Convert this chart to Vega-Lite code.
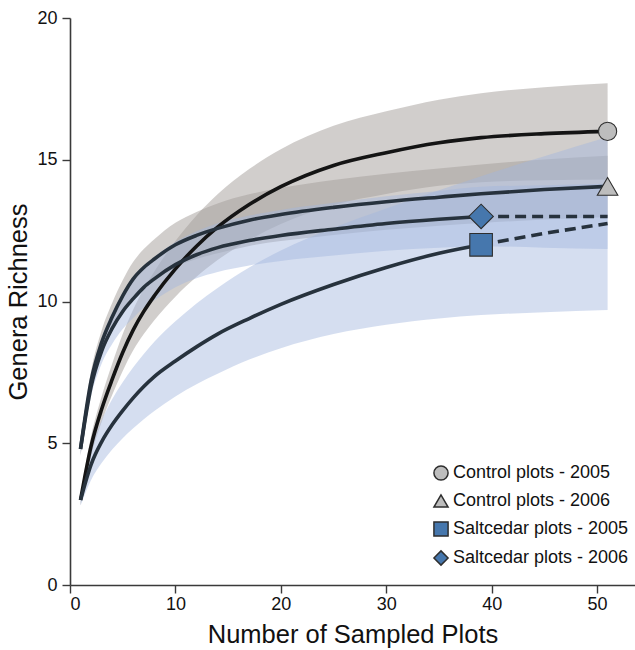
{
  "$schema": "https://vega.github.io/schema/vega-lite/v6.json",
  "width": 565,
  "height": 567,
  "autosize": {"type": "none"},
  "padding": {"left": 70, "top": 18, "right": 0, "bottom": 65},
  "background": "white",
  "config": {
    "view": {"stroke": null},
    "font": "Liberation Sans",
    "axis": {
      "grid": false,
      "domainColor": "#3a3a3a",
      "domainWidth": 1.6,
      "tickColor": "#3a3a3a",
      "tickWidth": 1.4,
      "tickSize": 8,
      "labelFontSize": 18,
      "labelColor": "#111111",
      "titleFontWeight": "normal",
      "titleColor": "#111111"
    },
    "legend": {
      "labelLimit": 300
    }
  },
  "datasets": {
    "bands": [
      {"series": "Control plots - 2005", "x": 1, "lo": 2.8, "hi": 3.2},
      {"series": "Control plots - 2005", "x": 2, "lo": 4.55, "hi": 5.25},
      {"series": "Control plots - 2005", "x": 3, "lo": 5.75, "hi": 6.65},
      {"series": "Control plots - 2005", "x": 4, "lo": 6.7, "hi": 7.8},
      {"series": "Control plots - 2005", "x": 5, "lo": 7.55, "hi": 8.85},
      {"series": "Control plots - 2005", "x": 6, "lo": 8.28, "hi": 9.72},
      {"series": "Control plots - 2005", "x": 7, "lo": 8.85, "hi": 10.45},
      {"series": "Control plots - 2005", "x": 8, "lo": 9.34, "hi": 11.06},
      {"series": "Control plots - 2005", "x": 10, "lo": 10.17, "hi": 12.13},
      {"series": "Control plots - 2005", "x": 12, "lo": 10.87, "hi": 13.03},
      {"series": "Control plots - 2005", "x": 14, "lo": 11.46, "hi": 13.78},
      {"series": "Control plots - 2005", "x": 17, "lo": 12.17, "hi": 14.67},
      {"series": "Control plots - 2005", "x": 20, "lo": 12.73, "hi": 15.37},
      {"series": "Control plots - 2005", "x": 25, "lo": 13.4, "hi": 16.2},
      {"series": "Control plots - 2005", "x": 30, "lo": 13.79, "hi": 16.71},
      {"series": "Control plots - 2005", "x": 35, "lo": 14.08, "hi": 17.12},
      {"series": "Control plots - 2005", "x": 39, "lo": 14.21, "hi": 17.35},
      {"series": "Control plots - 2005", "x": 45, "lo": 14.28, "hi": 17.56},
      {"series": "Control plots - 2005", "x": 51, "lo": 14.3, "hi": 17.7},
      {"series": "Control plots - 2006", "x": 1, "lo": 4.55, "hi": 5.05},
      {"series": "Control plots - 2006", "x": 2, "lo": 6.85, "hi": 7.55},
      {"series": "Control plots - 2006", "x": 3, "lo": 8.12, "hi": 8.98},
      {"series": "Control plots - 2006", "x": 4, "lo": 8.95, "hi": 9.95},
      {"series": "Control plots - 2006", "x": 5, "lo": 9.65, "hi": 10.75},
      {"series": "Control plots - 2006", "x": 6, "lo": 10.2, "hi": 11.4},
      {"series": "Control plots - 2006", "x": 7, "lo": 10.55, "hi": 11.85},
      {"series": "Control plots - 2006", "x": 8, "lo": 10.8, "hi": 12.2},
      {"series": "Control plots - 2006", "x": 10, "lo": 11.22, "hi": 12.78},
      {"series": "Control plots - 2006", "x": 12, "lo": 11.5, "hi": 13.16},
      {"series": "Control plots - 2006", "x": 14, "lo": 11.7, "hi": 13.46},
      {"series": "Control plots - 2006", "x": 17, "lo": 11.96, "hi": 13.78},
      {"series": "Control plots - 2006", "x": 20, "lo": 12.13, "hi": 14.01},
      {"series": "Control plots - 2006", "x": 25, "lo": 12.35, "hi": 14.29},
      {"series": "Control plots - 2006", "x": 30, "lo": 12.53, "hi": 14.51},
      {"series": "Control plots - 2006", "x": 35, "lo": 12.67, "hi": 14.69},
      {"series": "Control plots - 2006", "x": 39, "lo": 12.77, "hi": 14.83},
      {"series": "Control plots - 2006", "x": 45, "lo": 12.89, "hi": 15.01},
      {"series": "Control plots - 2006", "x": 51, "lo": 12.98, "hi": 15.14},
      {"series": "Saltcedar plots - 2005", "x": 1, "lo": 2.8, "hi": 3.2},
      {"series": "Saltcedar plots - 2005", "x": 2, "lo": 3.7, "hi": 4.8},
      {"series": "Saltcedar plots - 2005", "x": 3, "lo": 4.3, "hi": 5.8},
      {"series": "Saltcedar plots - 2005", "x": 4, "lo": 4.78, "hi": 6.55},
      {"series": "Saltcedar plots - 2005", "x": 5, "lo": 5.18, "hi": 7.15},
      {"series": "Saltcedar plots - 2005", "x": 6, "lo": 5.53, "hi": 7.68},
      {"series": "Saltcedar plots - 2005", "x": 7, "lo": 5.85, "hi": 8.15},
      {"series": "Saltcedar plots - 2005", "x": 8, "lo": 6.14, "hi": 8.58},
      {"series": "Saltcedar plots - 2005", "x": 10, "lo": 6.65, "hi": 9.3},
      {"series": "Saltcedar plots - 2005", "x": 12, "lo": 7.08, "hi": 9.93},
      {"series": "Saltcedar plots - 2005", "x": 14, "lo": 7.45, "hi": 10.48},
      {"series": "Saltcedar plots - 2005", "x": 17, "lo": 7.95, "hi": 11.2},
      {"series": "Saltcedar plots - 2005", "x": 20, "lo": 8.35, "hi": 11.8},
      {"series": "Saltcedar plots - 2005", "x": 25, "lo": 8.85, "hi": 12.6},
      {"series": "Saltcedar plots - 2005", "x": 30, "lo": 9.18, "hi": 13.28},
      {"series": "Saltcedar plots - 2005", "x": 35, "lo": 9.4, "hi": 13.92},
      {"series": "Saltcedar plots - 2005", "x": 39, "lo": 9.52, "hi": 14.42},
      {"series": "Saltcedar plots - 2005", "x": 45, "lo": 9.62, "hi": 15.12},
      {"series": "Saltcedar plots - 2005", "x": 51, "lo": 9.7, "hi": 15.8},
      {"series": "Saltcedar plots - 2006", "x": 1, "lo": 4.6, "hi": 5.0},
      {"series": "Saltcedar plots - 2006", "x": 2, "lo": 6.65, "hi": 7.35},
      {"series": "Saltcedar plots - 2006", "x": 3, "lo": 7.8, "hi": 8.7},
      {"series": "Saltcedar plots - 2006", "x": 4, "lo": 8.5, "hi": 9.6},
      {"series": "Saltcedar plots - 2006", "x": 5, "lo": 9.03, "hi": 10.27},
      {"series": "Saltcedar plots - 2006", "x": 6, "lo": 9.42, "hi": 10.78},
      {"series": "Saltcedar plots - 2006", "x": 7, "lo": 9.78, "hi": 11.22},
      {"series": "Saltcedar plots - 2006", "x": 8, "lo": 10.04, "hi": 11.56},
      {"series": "Saltcedar plots - 2006", "x": 10, "lo": 10.5, "hi": 12.1},
      {"series": "Saltcedar plots - 2006", "x": 12, "lo": 10.82, "hi": 12.48},
      {"series": "Saltcedar plots - 2006", "x": 14, "lo": 11.04, "hi": 12.76},
      {"series": "Saltcedar plots - 2006", "x": 17, "lo": 11.27, "hi": 13.03},
      {"series": "Saltcedar plots - 2006", "x": 20, "lo": 11.43, "hi": 13.23},
      {"series": "Saltcedar plots - 2006", "x": 25, "lo": 11.62, "hi": 13.48},
      {"series": "Saltcedar plots - 2006", "x": 30, "lo": 11.79, "hi": 13.71},
      {"series": "Saltcedar plots - 2006", "x": 35, "lo": 11.9, "hi": 13.9},
      {"series": "Saltcedar plots - 2006", "x": 39, "lo": 11.95, "hi": 14.05},
      {"series": "Saltcedar plots - 2006", "x": 45, "lo": 11.9, "hi": 14.1},
      {"series": "Saltcedar plots - 2006", "x": 51, "lo": 11.85, "hi": 14.15}
    ],
    "lines": [
      {"series": "Control plots - 2005", "seg": "solid", "x": 1, "y": 3.0},
      {"series": "Control plots - 2005", "seg": "solid", "x": 2, "y": 4.9},
      {"series": "Control plots - 2005", "seg": "solid", "x": 3, "y": 6.2},
      {"series": "Control plots - 2005", "seg": "solid", "x": 4, "y": 7.25},
      {"series": "Control plots - 2005", "seg": "solid", "x": 5, "y": 8.2},
      {"series": "Control plots - 2005", "seg": "solid", "x": 6, "y": 9.0},
      {"series": "Control plots - 2005", "seg": "solid", "x": 7, "y": 9.65},
      {"series": "Control plots - 2005", "seg": "solid", "x": 8, "y": 10.2},
      {"series": "Control plots - 2005", "seg": "solid", "x": 10, "y": 11.15},
      {"series": "Control plots - 2005", "seg": "solid", "x": 12, "y": 11.95},
      {"series": "Control plots - 2005", "seg": "solid", "x": 14, "y": 12.62},
      {"series": "Control plots - 2005", "seg": "solid", "x": 17, "y": 13.42},
      {"series": "Control plots - 2005", "seg": "solid", "x": 20, "y": 14.05},
      {"series": "Control plots - 2005", "seg": "solid", "x": 25, "y": 14.8},
      {"series": "Control plots - 2005", "seg": "solid", "x": 30, "y": 15.25},
      {"series": "Control plots - 2005", "seg": "solid", "x": 35, "y": 15.6},
      {"series": "Control plots - 2005", "seg": "solid", "x": 39, "y": 15.78},
      {"series": "Control plots - 2005", "seg": "solid", "x": 45, "y": 15.92},
      {"series": "Control plots - 2005", "seg": "solid", "x": 51, "y": 16.0},
      {"series": "Control plots - 2006", "seg": "solid", "x": 1, "y": 4.8},
      {"series": "Control plots - 2006", "seg": "solid", "x": 2, "y": 7.2},
      {"series": "Control plots - 2006", "seg": "solid", "x": 3, "y": 8.55},
      {"series": "Control plots - 2006", "seg": "solid", "x": 4, "y": 9.45},
      {"series": "Control plots - 2006", "seg": "solid", "x": 5, "y": 10.2},
      {"series": "Control plots - 2006", "seg": "solid", "x": 6, "y": 10.8},
      {"series": "Control plots - 2006", "seg": "solid", "x": 7, "y": 11.2},
      {"series": "Control plots - 2006", "seg": "solid", "x": 8, "y": 11.5},
      {"series": "Control plots - 2006", "seg": "solid", "x": 10, "y": 12.0},
      {"series": "Control plots - 2006", "seg": "solid", "x": 12, "y": 12.33},
      {"series": "Control plots - 2006", "seg": "solid", "x": 14, "y": 12.58},
      {"series": "Control plots - 2006", "seg": "solid", "x": 17, "y": 12.87},
      {"series": "Control plots - 2006", "seg": "solid", "x": 20, "y": 13.07},
      {"series": "Control plots - 2006", "seg": "solid", "x": 25, "y": 13.32},
      {"series": "Control plots - 2006", "seg": "solid", "x": 30, "y": 13.52},
      {"series": "Control plots - 2006", "seg": "solid", "x": 35, "y": 13.68},
      {"series": "Control plots - 2006", "seg": "solid", "x": 39, "y": 13.8},
      {"series": "Control plots - 2006", "seg": "solid", "x": 45, "y": 13.95},
      {"series": "Control plots - 2006", "seg": "solid", "x": 51, "y": 14.06},
      {"series": "Saltcedar plots - 2005", "seg": "solid", "x": 1, "y": 3.0},
      {"series": "Saltcedar plots - 2005", "seg": "solid", "x": 2, "y": 4.25},
      {"series": "Saltcedar plots - 2005", "seg": "solid", "x": 3, "y": 5.05},
      {"series": "Saltcedar plots - 2005", "seg": "solid", "x": 4, "y": 5.65},
      {"series": "Saltcedar plots - 2005", "seg": "solid", "x": 5, "y": 6.15},
      {"series": "Saltcedar plots - 2005", "seg": "solid", "x": 6, "y": 6.6},
      {"series": "Saltcedar plots - 2005", "seg": "solid", "x": 7, "y": 7.0},
      {"series": "Saltcedar plots - 2005", "seg": "solid", "x": 8, "y": 7.35},
      {"series": "Saltcedar plots - 2005", "seg": "solid", "x": 10, "y": 7.9},
      {"series": "Saltcedar plots - 2005", "seg": "solid", "x": 12, "y": 8.4},
      {"series": "Saltcedar plots - 2005", "seg": "solid", "x": 14, "y": 8.85},
      {"series": "Saltcedar plots - 2005", "seg": "solid", "x": 17, "y": 9.4},
      {"series": "Saltcedar plots - 2005", "seg": "solid", "x": 20, "y": 9.9},
      {"series": "Saltcedar plots - 2005", "seg": "solid", "x": 25, "y": 10.6},
      {"series": "Saltcedar plots - 2005", "seg": "solid", "x": 30, "y": 11.2},
      {"series": "Saltcedar plots - 2005", "seg": "solid", "x": 35, "y": 11.7},
      {"series": "Saltcedar plots - 2005", "seg": "solid", "x": 39, "y": 12.0},
      {"series": "Saltcedar plots - 2005", "seg": "dash", "x": 39, "y": 12.0},
      {"series": "Saltcedar plots - 2005", "seg": "dash", "x": 45, "y": 12.4},
      {"series": "Saltcedar plots - 2005", "seg": "dash", "x": 51, "y": 12.75},
      {"series": "Saltcedar plots - 2006", "seg": "solid", "x": 1, "y": 4.8},
      {"series": "Saltcedar plots - 2006", "seg": "solid", "x": 2, "y": 7.0},
      {"series": "Saltcedar plots - 2006", "seg": "solid", "x": 3, "y": 8.25},
      {"series": "Saltcedar plots - 2006", "seg": "solid", "x": 4, "y": 9.05},
      {"series": "Saltcedar plots - 2006", "seg": "solid", "x": 5, "y": 9.65},
      {"series": "Saltcedar plots - 2006", "seg": "solid", "x": 6, "y": 10.1},
      {"series": "Saltcedar plots - 2006", "seg": "solid", "x": 7, "y": 10.5},
      {"series": "Saltcedar plots - 2006", "seg": "solid", "x": 8, "y": 10.8},
      {"series": "Saltcedar plots - 2006", "seg": "solid", "x": 10, "y": 11.3},
      {"series": "Saltcedar plots - 2006", "seg": "solid", "x": 12, "y": 11.65},
      {"series": "Saltcedar plots - 2006", "seg": "solid", "x": 14, "y": 11.9},
      {"series": "Saltcedar plots - 2006", "seg": "solid", "x": 17, "y": 12.15},
      {"series": "Saltcedar plots - 2006", "seg": "solid", "x": 20, "y": 12.33},
      {"series": "Saltcedar plots - 2006", "seg": "solid", "x": 25, "y": 12.55},
      {"series": "Saltcedar plots - 2006", "seg": "solid", "x": 30, "y": 12.75},
      {"series": "Saltcedar plots - 2006", "seg": "solid", "x": 35, "y": 12.9},
      {"series": "Saltcedar plots - 2006", "seg": "solid", "x": 39, "y": 13.0},
      {"series": "Saltcedar plots - 2006", "seg": "dash", "x": 39, "y": 13.0},
      {"series": "Saltcedar plots - 2006", "seg": "dash", "x": 45, "y": 13.0},
      {"series": "Saltcedar plots - 2006", "seg": "dash", "x": 51, "y": 13.0}
    ],
    "ends": [
      {"series": "Control plots - 2005", "x": 51, "y": 16.0},
      {"series": "Control plots - 2006", "x": 51, "y": 14.06},
      {"series": "Saltcedar plots - 2005", "x": 39, "y": 12.0},
      {"series": "Saltcedar plots - 2006", "x": 39, "y": 13.0}
    ]
  },
  "layer": [
    {
      "data": {"name": "bands"},
      "transform": [{"filter": "indexof(datum.series, 'Control') == 0"}],
      "mark": {"type": "area", "fill": "#a39e9a", "opacity": 0.5, "interpolate": "monotone"},
      "encoding": {
        "x": {"field": "x", "type": "quantitative", "scale": {"domain": [0, 53.6], "nice": false}, "axis": {"values": [0, 10, 20, 30, 40, 50], "title": "Number of Sampled Plots", "titleFontSize": 25.5, "labelPadding": 2, "titlePadding": 9}},
        "y": {"field": "lo", "type": "quantitative", "scale": {"domain": [0, 20], "nice": false}, "axis": {"values": [0, 5, 10, 15, 20], "title": "Genera Richness", "titleFontSize": 25.5, "labelPadding": 5, "titlePadding": 5}},
        "y2": {"field": "hi"},
        "detail": {"field": "series"}
      }
    },
    {
      "data": {"name": "bands"},
      "transform": [{"filter": "indexof(datum.series, 'Saltcedar') == 0"}],
      "mark": {"type": "area", "fill": "#a2b6de", "opacity": 0.45, "interpolate": "monotone"},
      "encoding": {
        "x": {"field": "x", "type": "quantitative", "title": "Number of Sampled Plots"},
        "y": {"field": "lo", "type": "quantitative", "title": "Genera Richness"},
        "y2": {"field": "hi"},
        "detail": {"field": "series"}
      }
    },
    {
      "data": {"name": "lines"},
      "transform": [{"filter": "datum.seg == 'solid'"}],
      "mark": {"type": "line", "strokeWidth": 3.6, "interpolate": "monotone"},
      "encoding": {
        "x": {"field": "x", "type": "quantitative", "title": "Number of Sampled Plots"},
        "y": {"field": "y", "type": "quantitative", "title": "Genera Richness"},
        "stroke": {"field": "series", "type": "nominal", "scale": {"range": ["#141414", "#27323d", "#27323d", "#27323d"]}, "legend": null},
        "detail": {"field": "series"}
      }
    },
    {
      "data": {"name": "lines"},
      "transform": [{"filter": "datum.seg == 'dash'"}],
      "mark": {"type": "line", "strokeWidth": 3.6, "strokeDash": [11, 6], "interpolate": "monotone"},
      "encoding": {
        "x": {"field": "x", "type": "quantitative", "title": "Number of Sampled Plots"},
        "y": {"field": "y", "type": "quantitative", "title": "Genera Richness"},
        "stroke": {"field": "series", "type": "nominal", "legend": null},
        "detail": {"field": "series"}
      }
    },
    {
      "data": {"name": "ends"},
      "mark": {"type": "point", "filled": true, "opacity": 1, "stroke": "#2e2e2e", "strokeWidth": 1.1},
      "encoding": {
        "x": {"field": "x", "type": "quantitative", "title": "Number of Sampled Plots"},
        "y": {"field": "y", "type": "quantitative", "title": "Genera Richness"},
        "shape": {"field": "series", "type": "nominal", "scale": {"domain": ["Control plots - 2005", "Control plots - 2006", "Saltcedar plots - 2005", "Saltcedar plots - 2006"], "range": ["circle", "triangle-up", "square", "diamond"]},
          "legend": {"orient": "none", "legendX": 362, "legendY": 446, "title": null, "labelFontSize": 18, "labelColor": "#111111", "labelOffset": 3, "labelLimit": 300, "symbolSize": 200, "rowPadding": 7,
            "encode": {"symbols": {"stroke": {"value": "#2e2e2e"}, "strokeWidth": {"value": 1}}}}},
        "fill": {"field": "series", "type": "nominal", "scale": {"domain": ["Control plots - 2005", "Control plots - 2006", "Saltcedar plots - 2005", "Saltcedar plots - 2006"], "range": ["#bdbdbd", "#bdbdbd", "#4677ad", "#4677ad"]},
          "legend": {"orient": "none", "legendX": 362, "legendY": 446, "title": null, "labelFontSize": 18, "labelColor": "#111111", "labelOffset": 3, "labelLimit": 300, "symbolSize": 200, "rowPadding": 7,
            "encode": {"symbols": {"stroke": {"value": "#2e2e2e"}, "strokeWidth": {"value": 1}}}}},
        "size": {"field": "series", "type": "nominal", "scale": {"range": [330, 600, 256, 460]}, "legend": null}
      }
    }
  ]
}
